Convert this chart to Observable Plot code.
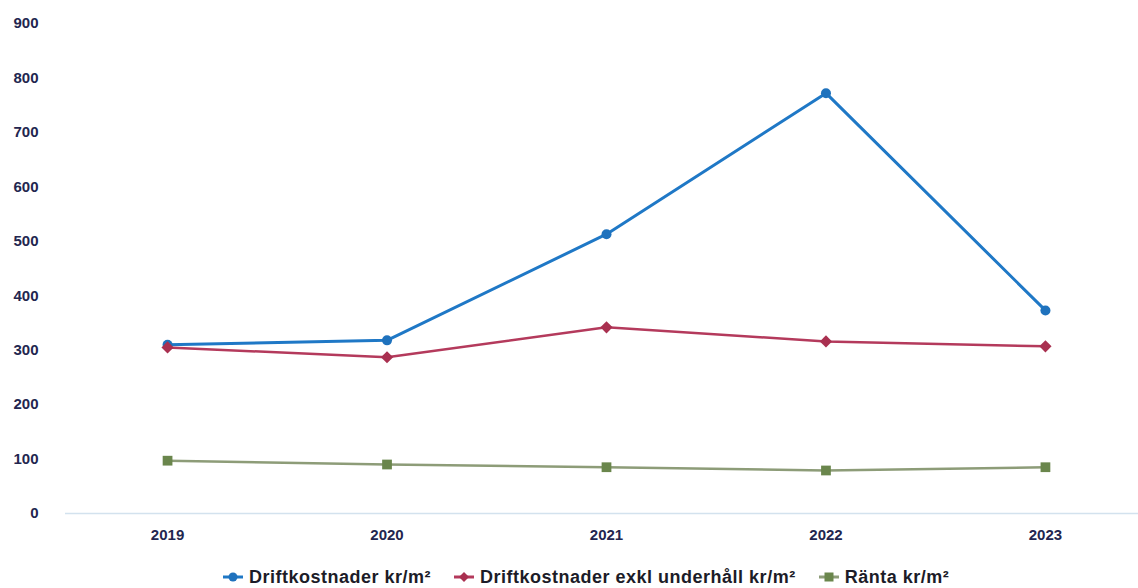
<!DOCTYPE html>
<html>
<head>
<meta charset="utf-8">
<script src="https://cdn.jsdelivr.net/npm/d3@7"></script>
<script src="https://cdn.jsdelivr.net/npm/@observablehq/plot@0.6"></script>
<style>
  html, body { margin: 0; padding: 0; background: #fff; overflow: hidden; }
  #chart { width: 1138px; }
  .legend { display: flex; justify-content: flex-start; align-items: center; height: 24px; padding-top: 15px; padding-left: 223px;
    font-family: "Liberation Sans", Arial, sans-serif; font-weight: bold; font-size: 18px; letter-spacing: 0.5px; color: #1c1c28; }
  .legend .item { display: flex; align-items: center; margin-right: 23px; }
  .legend svg { margin-right: 6px; }
</style>
</head>
<body>
<div id="chart"></div>
<script>
const years = [2019, 2020, 2021, 2022, 2023];
const seriesNames = ["Driftkostnader kr/m²", "Driftkostnader exkl underhåll kr/m²", "Ränta kr/m²"];
const drift = [310, 318, 513, 772, 373];
const driftExkl = [305, 287, 342, 316, 307];
const ranta = [97, 90, 85, 79, 85];
const yTicks = [0, 100, 200, 300, 400, 500, 600, 700, 800, 900];

const lineColors = ["#1f78c6", "#b43a5c", "#8d9c78"];
const markColors = ["#1f72bd", "#a93050", "#6a864c"];
const symbols = ["circle", "diamond2", "square"];
const markSizes = [5, 5.5, 5.5];
const widths = [3, 2.5, 2.5];

const valuesList = [drift, driftExkl, ranta];
const data = [];
valuesList.forEach((vals, s) => vals.forEach((v, i) => data.push({series: seriesNames[s], year: years[i], value: v})));

const marks = [
  Plot.ruleY([0], {stroke: "#d3e2ee", strokeWidth: 1.5}),
];
seriesNames.forEach((name, s) => {
  const d = data.filter(r => r.series === name);
  marks.push(Plot.line(d, {x: "year", y: "value", stroke: lineColors[s], strokeWidth: widths[s]}));
  marks.push(Plot.dot(d, {x: "year", y: "value", symbol: () => symbols[s], fill: markColors[s], stroke: "none", r: markSizes[s]}));
});

const plot = Plot.plot({
  width: 1138,
  height: 550,
  marginLeft: 65,
  marginRight: 0,
  marginTop: 23,
  marginBottom: 37,
  style: {fontFamily: "Liberation Sans, Arial, sans-serif", fontSize: "15px", fontWeight: "bold", color: "#23264f", background: "#fff"},
  x: {type: "linear", domain: [2018.535, 2023.424], ticks: years, tickFormat: d => String(d), tickSize: 0, tickPadding: 16, label: null},
  y: {domain: [0, 900], ticks: yTicks, tickSize: 0, tickPadding: 27, label: null},
  symbol: {type: "identity"},
  marks
});
document.getElementById("chart").appendChild(plot);

const legend = document.createElement("div");
legend.className = "legend";
seriesNames.forEach((name, s) => {
  const item = document.createElement("div");
  item.className = "item";
  const sym = s === 0 ? `<circle cx="10" cy="7" r="4.5" fill="${markColors[s]}"/>`
    : s === 1 ? `<path d="M10 2 L15 7 L10 12 L5 7 Z" fill="${markColors[s]}"/>`
    : `<rect x="5.5" y="2.5" width="9" height="9" fill="${markColors[s]}"/>`;
  item.innerHTML = `<svg width="20" height="14"><line x1="0" x2="20" y1="7" y2="7" stroke="${lineColors[s]}" stroke-width="3"/>${sym}</svg><span>${name}</span>`;
  legend.appendChild(item);
});
document.getElementById("chart").appendChild(legend);
</script>
</body>
</html>
